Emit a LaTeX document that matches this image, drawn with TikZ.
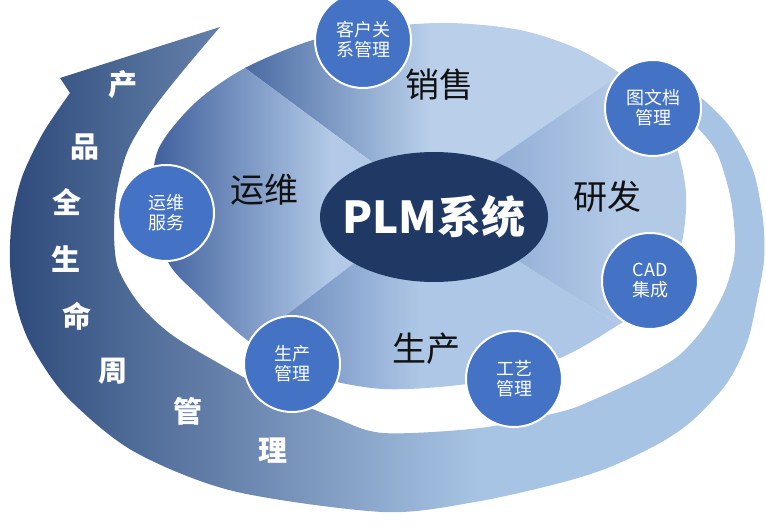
\documentclass[tikz,border=0pt]{standalone}
\usepackage{fontspec}
\setmainfont{Noto Sans CJK SC}
\usetikzlibrary{shapes.geometric}
\definecolor{bandDark}{HTML}{2C4879}
\definecolor{bandLight}{HTML}{A8C4E4}
\definecolor{topA}{HTML}{4A6BA3}
\definecolor{topB}{HTML}{B9CFEA}
\definecolor{leftA}{HTML}{3D5E9B}
\definecolor{leftB}{HTML}{B2C9E7}
\definecolor{botA}{HTML}{5B7BB3}
\definecolor{botB}{HTML}{AEC7E6}
\definecolor{rightA}{HTML}{8EA9D3}
\definecolor{rightB}{HTML}{B3CAE7}
\definecolor{navy}{HTML}{1F3864}
\definecolor{cblue}{HTML}{4472C4}
\definecolor{ink}{HTML}{111111}
\newcommand\hgradfill[4]{%
  \fill[#3] (-20,-20) rectangle (#1+1,560);
  \fill[#4] (#2-1,-20) rectangle (800,560);
  \shade[left color=#3,right color=#4] (#1,-20) rectangle (#2,560);}
\begin{document}
\begin{tikzpicture}[x=1pt,y=-1pt,
  circ/.style={circle, fill=cblue, draw=white, line width=2pt, minimum size=96,
    inner sep=0pt, text=white, align=center, font=\fontsize{18}{20}\selectfont},
  cat/.style={text=ink, font=\fontsize{34}{36}\selectfont, inner sep=0pt},
  bandtxt/.style={text=white, font=\bfseries\fontsize{29}{30}\selectfont, inner sep=0pt}]
\useasboundingbox (0,0) rectangle (766,529);
% ---------- life-cycle band with arrow head ----------
\begin{scope}
\clip (220,27) -- (60,78) -- (70,93)
  -- plot[smooth] coordinates {(70,93) (43,133) (22,177) (12,220) (10,264) (17,308) (32,347)
     (67,397) (133,451) (233,491) (383,512) (475,502) (560,483) (610,467) (660,443)
     (693,420) (727,383) (747,343) (757,300) (764,260) (763,220) (753,170) (730,127)
     (700,97) (672,82)}
  -- plot[smooth] coordinates {(680,112) (697,127) (717,153) (731,200) (735,250) (727,285)
     (715,310) (700,333) (677,357) (643,377) (593,400) (560,412) (480,428) (383,433)
     (333,417) (270,391) (220,364) (172,335) (140,305) (118,268) (114,230) (117,190)
     (128,150) (150,113) (182,72) (220,27)}
  -- cycle;
\hgradfill{0}{480}{bandDark}{bandLight}
\end{scope}
% ---------- big ellipse split in four ----------
\coordinate (X) at (430,205);
\coordinate (TL) at (60,-69);
\coordinate (TR) at (830,-70);
\coordinate (BR) at (895,500);
\coordinate (BL) at (45,500);
\begin{scope}
\clip plot[smooth cycle] coordinates {(245,68) (313,40) (383,27) (450,23) (520,30) (580,50)
  (635,85) (672,135) (686,193) (680,250) (655,298) (615,327) (560,358) (480,382) (383,389)
  (300,372) (247,340) (200,297) (168,262) (153,205) (158,150) (195,103)};
\begin{scope}\clip (X) -- (TL) -- (TR) -- cycle; \hgradfill{245}{430}{topA}{topB}\end{scope}
\begin{scope}\clip (X) -- (BL) -- (TL) -- cycle; \hgradfill{150}{330}{leftA}{leftB}\end{scope}
\begin{scope}\clip (X) -- (BR) -- (BL) -- cycle; \hgradfill{240}{420}{botA}{botB}\end{scope}
\begin{scope}\clip (X) -- (TR) -- (BR) -- cycle; \hgradfill{480}{620}{rightA}{rightB}\end{scope}
\end{scope}
% ---------- centre ----------
\node (plm) [ellipse, fill=navy, minimum width=228, minimum height=130, inner sep=0pt] at (434,217) {};
\node (plmtext) at (plm.center) [text=white, inner sep=0pt, font=\bfseries\fontsize{44}{46}\selectfont] {PLM系统};
% ---------- quadrant labels ----------
\node (sales) [cat] at (439,85) {销售};
\node (ops) [cat] at (264,190) {运维};
\node (rd) [cat] at (607,197) {研发};
\node (prod) [cat] at (426,349) {生产};
% ---------- band text ----------
\node (b1) [bandtxt] at (123,85) {产};
\node (b2) [bandtxt] at (85,147) {品};
\node (b3) [bandtxt] at (67,202) {全};
\node (b4) [bandtxt] at (66,259) {生};
\node (b5) [bandtxt] at (77,316) {命};
\node (b6) [bandtxt] at (113,371) {周};
\node (b7) [bandtxt] at (188,411) {管};
\node (b8) [bandtxt] at (273,451) {理};
% ---------- small circles ----------
\node (c1) [circ] at (363,40) {客户关\\系管理};
\node (c2) [circ] at (653,108) {图文档\\管理};
\node (c3) [circ] at (166,213) {运维\\服务};
\node (c4) [circ] at (650,281) {CAD\\集成};
\node (c5) [circ] at (292,364) {生产\\管理};
\node (c6) [circ] at (514,379) {工艺\\管理};
\end{tikzpicture}
\end{document}
